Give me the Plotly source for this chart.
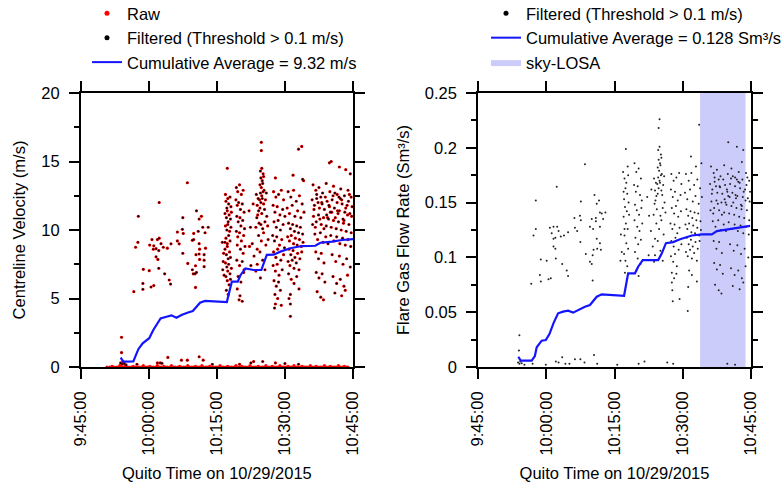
import numpy as np
import pandas as pd
import plotly.graph_objects as go

# ---------------- data (times in minutes after 09:45:00 on 2015-10-29) ----------------
tick_minutes = [0, 15, 30, 45, 60]
tick_labels = ["9:45:00", "10:00:00", "10:15:00", "10:30:00", "10:45:00"]

# Raw velocity samples lying on/near zero (red band along the axis)
raw_zero_min = [5.8, 6.4, 6.9, 7.3, 7.8, 8.2, 8.6, 9.0, 9.4, 9.8,
                10.3, 10.7, 11.2, 11.6, 12.1, 12.5, 12.9, 13.4, 13.8, 14.3,
                14.7, 15.2, 15.6, 16.0, 16.5, 16.9, 17.4, 17.8, 18.3, 18.7,
                19.1, 19.6, 20.0, 20.5, 20.9, 21.4, 21.8, 22.2, 22.7, 23.1,
                23.6, 24.0, 24.5, 24.9, 25.3, 25.8, 26.2, 26.7, 27.1, 27.6,
                28.0, 28.4, 28.9, 29.3, 29.8, 30.2, 30.7, 31.1, 31.5, 32.0,
                32.4, 32.9, 33.3, 33.8, 34.2, 34.6, 35.1, 35.5, 36.0, 36.4,
                36.9, 37.3, 37.7, 38.2, 38.6, 39.1, 39.5, 40.0, 40.4, 40.8,
                41.3, 41.7, 42.2, 42.6, 43.1, 43.5, 43.9, 44.4, 44.8, 45.3,
                45.7, 46.2, 46.6, 47.0, 47.5, 47.9, 48.4, 48.8, 49.3, 49.7,
                50.1, 50.6, 51.0, 51.5, 51.9, 52.4, 52.8, 53.2, 53.7, 54.1,
                54.6, 55.0, 55.5, 55.9, 56.3, 56.8, 57.2, 57.7, 58.1, 58.6,
                58.9]
raw_zero_val = [0.0, 0.0, 0.05, 0.0, 0.0, 0.0, 0.1, 0.0, 0.0, 0.05,
                0.0, 0.0, 0.0, 0.05, 0.0, 0.0, 0.0, 0.0, 0.1, 0.0,
                0.0, 0.05, 0.0, 0.0, 0.0, 0.1, 0.0, 0.0, 0.05, 0.0,
                0.0, 0.0, 0.1, 0.0, 0.0, 0.0, 0.05, 0.0, 0.0, 0.0,
                0.1, 0.0, 0.0, 0.0, 0.05, 0.0, 0.0, 0.1, 0.0, 0.0,
                0.0, 0.05, 0.0, 0.0, 0.0, 0.0, 0.1, 0.0, 0.0, 0.0,
                0.05, 0.0, 0.0, 0.0, 0.1, 0.0, 0.0, 0.05, 0.0, 0.0,
                0.0, 0.1, 0.0, 0.0, 0.0, 0.05, 0.0, 0.0, 0.0, 0.1,
                0.0, 0.0, 0.05, 0.0, 0.0, 0.0, 0.1, 0.0, 0.0, 0.0,
                0.05, 0.0, 0.0, 0.1, 0.0, 0.0, 0.0, 0.05, 0.0, 0.0,
                0.0, 0.1, 0.0, 0.0, 0.05, 0.0, 0.0, 0.0, 0.1, 0.0,
                0.0, 0.05, 0.0, 0.0, 0.0, 0.1, 0.0, 0.0, 0.05, 0.0,
                0.0]

# Filtered centreline velocity (m/s)
vel_filt_min = [
    23.5, 17.3, 12.7, 25.5, 22.5, 26.6, 26.1, 26.9, 28.1, 21.3,
    22.4, 22.6, 24.9, 25.9, 27.4, 15.7, 16.9, 17.3, 12.6, 12.1,
    15.2, 16.1, 16.6, 17.7, 18.2, 19.1, 19.9, 21.3, 21.7, 24.6,
    24.9, 26.1, 27.5, 26.2, 16.0, 17.2, 22.5, 25.4, 26.1, 27.2,
    16.6, 17.0, 26.2, 27.2, 23.6, 25.3, 27.2, 13.8, 15.1, 17.2,
    24.6, 25.5, 25.2, 24.8, 18.5, 19.5, 19.8, 13.7, 16.1, 15.5,
    13.7, 25.3, 11.7, 9.0, 9.0, 31.8,
    8.8, 9.1, 9.3, 9.6, 10.0, 12.4, 16.9, 17.5, 17.9, 19.2,
    22.2, 23.5, 26.1, 27.0, 29.0, 35.0, 37.5, 38.1, 40.1, 42.9,
    45.0, 48.0,
    31.9, 32.0, 32.2, 32.4, 32.6, 32.9, 33.1, 31.8, 32.1, 32.3,
    32.5, 32.7, 33.0, 33.2, 31.9, 32.2, 32.4, 32.8, 33.1, 32.0,
    32.3, 32.6, 32.9, 31.8, 32.1, 32.3, 32.5, 32.8, 33.0, 31.9,
    32.2, 32.4, 32.6, 32.9, 33.2, 32.0, 32.3, 32.7, 33.0, 32.1,
    32.5, 32.3, 31.2, 31.5, 31.4, 31.6, 31.3,
    34.3, 34.6, 35.0, 35.4, 35.8, 34.2, 34.5, 34.8, 35.2, 35.6,
    36.0, 34.4, 34.7, 35.1, 35.3, 35.7, 36.1, 34.3, 34.6, 35.0,
    35.4, 35.9, 34.5, 35.2, 35.8, 36.2, 34.4, 35.0, 35.6, 36.0,
    34.7, 35.3, 35.9, 34.5, 35.1, 35.6, 34.9, 37.1, 37.4, 37.8,
    38.2, 37.5, 38.6, 38.0, 38.9, 37.2,
    39.8, 39.8, 39.6, 39.9, 40.2, 39.7, 40.0, 40.3, 39.5, 39.8,
    40.1, 40.4, 39.6, 39.9, 40.2, 39.4, 39.7, 40.0, 40.3, 38.7,
    38.9, 39.1, 39.2, 38.8, 39.0, 39.3, 38.6, 39.5, 39.9, 40.5,
    40.7, 41.0, 40.6, 41.2, 40.1, 39.7, 40.9, 39.2, 39.8, 40.3,
    40.8, 39.5, 40.1, 38.9, 40.6, 39.6, 41.3,
    42.9, 42.5, 43.0, 43.6, 44.2, 44.7, 42.4, 42.8, 43.3, 43.9,
    44.5, 45.0, 42.6, 43.1, 43.5, 44.0, 44.6, 42.3, 42.7, 43.2,
    43.8, 44.3, 44.9, 42.5, 43.0, 43.4, 44.1, 44.7, 42.4, 42.9,
    43.3, 43.7, 44.4, 42.6, 43.1, 43.6, 44.0, 42.8, 43.4, 42.7,
    42.9, 44.2,
    46.8, 48.0, 48.7, 48.9, 49.1, 45.7, 46.3, 46.9, 47.5, 48.2,
    48.8, 45.5, 46.0, 46.6, 47.2, 47.8, 48.5, 49.2, 45.8, 46.2,
    46.7, 47.1, 47.6, 48.0, 48.4, 48.9, 45.6, 46.0, 46.4, 46.9,
    47.3, 47.7, 48.2, 48.6, 49.0, 45.9, 46.3, 46.8, 47.2, 47.8,
    48.3, 48.7, 45.7, 46.1, 46.6, 47.0, 47.5, 48.1, 45.8, 46.4,
    47.0, 47.6, 48.1, 46.2, 46.2, 46.2, 45.9,
    55.2, 54.8, 57.0, 58.4, 59.4, 51.2, 51.8, 52.5, 53.3, 54.1,
    54.9, 55.7, 56.5, 57.3, 58.1, 58.9, 59.6, 51.0, 51.5, 52.0,
    52.6, 53.1, 53.7, 54.3, 54.8, 55.4, 55.9, 56.5, 57.0, 57.6,
    58.2, 58.7, 59.3, 59.8, 51.3, 51.9, 52.4, 53.0, 53.5, 54.1,
    54.6, 55.2, 55.7, 56.3, 56.8, 57.4, 57.9, 58.5, 59.1, 59.6,
    51.6, 52.2, 52.8, 53.4, 54.0, 54.5, 55.1, 55.8, 56.4, 57.1,
    57.7, 58.3, 58.9, 59.5, 51.8, 52.4, 53.0, 53.6, 55.4, 56.2,
    57.0, 57.8, 58.6, 59.4, 51.9, 52.5, 53.2, 53.8, 55.6, 56.4,
    57.2, 58.0, 58.8, 52.1, 52.9, 53.5, 56.0, 57.5, 58.3,
    51.4, 52.0, 52.7, 53.2, 53.9, 54.4, 55.0, 55.6, 56.1, 56.7,
    57.2, 57.8, 58.4, 59.0, 59.7, 51.7, 52.3, 53.6, 54.2, 55.3,
    56.0, 56.6, 57.5, 58.0, 58.8, 59.2, 51.1, 52.9, 54.7, 56.9,
]
vel_filt_val = [
    13.45, 12.0, 11.0, 11.4, 10.9, 11.0, 10.8, 10.2, 10.2, 9.85,
    10.05, 9.75, 9.75, 9.9, 9.8, 9.3, 9.3, 9.4, 9.1, 8.74,
    8.9, 8.85, 8.64, 9.0, 8.74, 8.67, 8.99, 9.2, 8.99, 9.25,
    9.3, 9.0, 8.67, 8.6, 8.6, 8.5, 8.3, 8.2, 8.25, 8.2,
    8.04, 7.85, 7.85, 7.8, 7.56, 7.39, 7.32, 7.13, 7.03, 7.2,
    7.1, 6.9, 6.8, 6.8, 6.8, 6.35, 6.05, 6.1, 5.94, 5.84,
    5.67, 5.81, 5.5, 2.17, 1.05, 9.1,
    0.3, 0.2, 0.4, 0.25, 0.15, 0.2, 0.3, 0.3, 0.27, 0.7,
    0.5, 0.5, 0.75, 0.5, 0.2, 0.2, 0.3, 0.4, 0.4, 0.3,
    0.25, 0.2,
    12.6, 12.1, 11.6, 12.3, 11.9, 12.4, 11.7, 11.2, 10.9, 11.4,
    10.6, 11.1, 10.8, 11.3, 10.3, 10.0, 10.4, 9.9, 10.2, 9.4,
    9.0, 9.6, 9.2, 8.6, 8.2, 8.8, 7.9, 8.4, 8.0, 7.6,
    7.3, 7.0, 7.5, 6.8, 7.2, 6.6, 6.3, 6.0, 6.4, 5.6,
    5.3, 14.5, 9.1, 8.3, 7.7, 6.7, 7.1,
    13.1, 12.8, 13.3, 12.6, 12.9, 12.2, 11.8, 12.0, 11.5, 11.9,
    11.3, 11.0, 10.6, 10.9, 10.3, 10.7, 10.1, 9.9, 9.5, 9.8,
    9.2, 9.6, 8.9, 8.6, 8.3, 8.8, 7.8, 7.4, 7.7, 7.1,
    6.6, 6.2, 6.9, 5.7, 5.2, 4.8, 4.9, 11.4, 10.2, 9.0,
    8.1, 7.4, 7.0, 11.9, 8.6, 8.8,
    16.4, 15.8, 14.3, 14.5, 14.1, 13.8, 13.6, 13.9, 13.3, 13.1,
    13.4, 12.9, 12.7, 12.5, 12.8, 12.2, 12.0, 12.3, 11.9, 12.6,
    11.8, 12.3, 11.4, 10.9, 11.1, 10.5, 10.2, 11.6, 11.2, 11.5,
    12.2, 11.0, 10.6, 10.3, 10.1, 10.4, 12.7, 9.6, 9.2, 9.8,
    8.9, 8.4, 7.8, 7.5, 7.1, 6.5, 9.3,
    13.8, 12.8, 12.4, 12.6, 12.9, 12.2, 11.8, 11.3, 11.7, 11.1,
    11.5, 11.0, 10.6, 10.2, 10.7, 10.0, 10.4, 9.6, 9.2, 9.5,
    8.9, 9.3, 8.7, 8.4, 8.0, 8.6, 7.8, 8.2, 7.4, 7.0,
    7.5, 6.7, 7.1, 6.3, 5.9, 6.2, 5.6, 5.3, 5.0, 4.3,
    4.6, 4.5,
    14.0, 15.9, 16.1, 13.7, 13.6, 12.8, 12.4, 12.9, 12.1, 12.5,
    11.9, 11.6, 11.2, 11.8, 11.0, 11.4, 10.9, 11.3, 10.5, 10.1,
    10.4, 9.9, 10.3, 9.8, 10.2, 9.7, 9.5, 9.2, 9.6, 9.0,
    9.4, 8.9, 9.3, 8.8, 9.1, 8.6, 8.2, 8.5, 8.0, 8.3,
    7.9, 8.4, 7.7, 7.4, 7.8, 7.2, 7.6, 7.1, 6.8, 6.4,
    6.1, 6.6, 5.7, 5.3, 4.6, 3.7, 5.0,
    15.0, 14.9, 14.6, 14.4, 14.1, 13.3, 12.9, 13.1, 12.7, 13.4,
    12.8, 13.2, 12.6, 13.0, 12.5, 12.9, 12.4, 12.2, 11.8, 12.3,
    11.6, 12.0, 11.5, 12.1, 11.7, 12.2, 11.6, 12.0, 11.4, 11.9,
    11.3, 11.8, 11.2, 11.7, 11.0, 10.6, 11.1, 10.4, 10.9, 10.3,
    10.8, 10.2, 10.7, 10.1, 10.6, 10.0, 10.5, 9.9, 10.4, 9.8,
    9.7, 9.3, 9.8, 9.1, 9.5, 9.0, 9.6, 9.2, 9.5, 9.0,
    9.4, 8.9, 9.3, 8.8, 8.4, 7.9, 8.3, 7.6, 8.2, 7.7,
    8.1, 7.5, 7.9, 7.3, 6.9, 6.5, 6.8, 6.2, 6.6, 6.1,
    6.4, 5.9, 6.7, 5.5, 5.1, 4.9, 5.4, 5.2, 5.6,
    11.5, 12.6, 10.8, 11.9, 12.4, 10.9, 11.3, 12.5, 10.9, 11.2,
    12.3, 10.8, 11.6, 12.1, 11.0, 10.2, 12.0, 10.1, 11.1, 11.3,
    12.7, 11.4, 12.2, 10.7, 11.1, 12.6, 10.4, 12.4, 11.8, 12.4,
]

# Cumulative average velocity (m/s)
cum_v_min = [8.8, 9.4, 11.6, 12.0, 12.7, 13.65, 15.1, 16.0, 16.9, 17.6,
             18.9, 20.0, 21.1, 22.2, 23.5, 24.7, 26.3, 27.4, 32.2, 33.3,
             34.6, 35.2, 36.3, 38.1, 39.8, 40.3, 41.0, 42.5, 44.0, 46.2,
             48.7, 51.7, 52.8, 55.4, 57.6, 60.0]
cum_v_val = [0.68, 0.39, 0.4, 0.75, 1.3, 1.73, 2.1, 2.7, 3.19, 3.55,
             3.67, 3.77, 3.6, 3.8, 3.96, 4.09, 4.69, 4.82, 4.74, 6.23,
             6.23, 6.7, 7.2, 7.08, 7.08, 7.57, 8.18, 8.2, 8.42, 8.67,
             8.83, 8.85, 9.07, 9.15, 9.27, 9.34]

# Filtered flare gas flow rate (Sm3/s)
flow_filt_min = [
    23.5, 17.3, 12.7, 25.6, 22.6, 26.6, 26.1, 26.8, 28.0, 27.2,
    21.2, 22.4, 22.6, 25.0, 25.9, 25.9, 27.5, 15.8, 16.6, 17.4,
    12.7, 12.2, 16.2, 16.6, 17.0, 17.7, 18.2, 18.9, 19.8, 21.3,
    21.8, 24.6, 25.3, 26.8, 16.6, 17.0, 13.8, 15.1, 17.1, 18.5,
    19.5, 19.8, 22.5, 26.1, 26.8, 26.2, 27.0, 25.4, 25.2, 24.6,
    25.0, 23.7, 25.2, 13.6, 16.0, 15.5, 13.8, 11.7, 9.1, 9.0,
    32.2,
    8.8, 9.1, 9.3, 9.6, 10.2, 12.0, 14.9, 17.1, 17.7, 18.5,
    19.2, 20.1, 21.3, 22.5, 23.4, 25.5, 26.2, 30.6, 35.3, 36.6,
    41.6, 42.9, 54.8, 56.5,
    32.5, 31.9, 32.2, 32.6, 33.0, 32.4, 32.8, 32.1, 33.1, 32.3,
    32.7, 32.0, 33.2, 32.5, 32.9, 32.2, 32.6, 33.0, 32.1, 32.4,
    32.8, 32.3, 32.7, 31.4, 31.6, 31.3, 32.0, 32.9,
    34.4, 34.8, 35.3, 35.8, 34.3, 34.7, 35.1, 35.6, 36.0, 34.5,
    34.9, 35.4, 35.9, 34.4, 35.0, 35.5, 36.1, 34.6, 35.2, 35.8,
    34.5, 35.1, 35.7, 34.8, 35.3, 37.2, 37.6, 38.0, 38.4, 37.5,
    38.7, 38.1, 38.9,
    39.9, 39.7, 39.6, 39.9, 40.2, 39.7, 40.0, 40.3, 39.5, 39.8,
    40.1, 40.4, 39.6, 39.9, 40.2, 39.4, 39.7, 40.0, 40.3, 38.7,
    38.9, 39.1, 39.2, 38.8, 39.0, 39.3, 38.6, 39.5, 40.5, 40.7,
    41.0, 40.6, 41.2, 40.1, 40.9, 39.2, 39.8, 40.3, 40.8, 39.5,
    40.1, 38.9, 40.6,
    42.5, 43.0, 43.6, 44.2, 44.7, 42.4, 42.8, 43.3, 43.9, 44.5,
    42.6, 43.1, 43.5, 44.0, 44.6, 42.3, 42.7, 43.2, 43.8, 44.3,
    42.5, 43.0, 43.4, 44.1, 44.7, 42.4, 42.9, 43.3, 43.7, 42.6,
    43.1, 43.6, 42.6, 42.7, 42.8, 44.3,
    48.6, 47.9, 46.8, 45.7, 46.3, 46.9, 47.5, 48.2, 48.8, 45.5,
    46.0, 46.6, 47.2, 47.8, 48.5, 49.2, 45.8, 46.2, 46.7, 47.1,
    47.6, 48.0, 48.4, 48.9, 45.6, 46.0, 46.4, 46.9, 47.3, 47.7,
    48.2, 48.6, 49.0, 45.9, 46.3, 46.8, 47.2, 47.8, 48.3, 48.7,
    45.7, 46.1, 46.6, 47.0, 47.5, 48.1, 46.4, 47.0, 48.1, 46.2,
    46.1, 49.1,
    55.0, 56.9, 58.3, 58.0, 51.2, 51.8, 52.5, 53.3, 54.1, 54.9,
    55.7, 56.5, 57.3, 58.1, 58.9, 59.6, 51.0, 51.5, 52.0, 52.6,
    53.1, 53.7, 54.3, 54.8, 55.4, 55.9, 56.5, 57.0, 57.6, 58.2,
    58.7, 59.3, 59.8, 51.3, 51.9, 52.4, 53.0, 53.5, 54.1, 54.6,
    55.2, 55.7, 56.3, 56.8, 57.4, 57.9, 58.5, 59.1, 59.6, 51.6,
    52.2, 52.8, 53.4, 54.0, 54.5, 55.1, 55.8, 56.4, 57.1, 57.7,
    58.3, 58.9, 59.5, 51.8, 52.4, 53.0, 53.6, 55.4, 56.2, 57.0,
    57.8, 58.6, 59.4, 51.9, 52.5, 53.2, 53.8, 55.6, 56.4, 57.2,
    58.0, 58.8, 52.1, 52.9, 53.5, 56.0, 57.5, 58.3,
    51.4, 52.0, 52.7, 53.2, 53.9, 54.4, 55.0, 55.6, 56.1, 56.7,
    57.2, 57.8, 58.4, 59.0, 59.7, 51.7, 52.3, 53.6, 54.2, 55.3,
    56.0, 56.6, 57.5, 58.0, 58.8, 59.2, 51.1, 52.9, 54.7, 56.9,
]
flow_filt_val = [
    0.185, 0.1645, 0.152, 0.157, 0.151, 0.152, 0.149, 0.141, 0.141, 0.140,
    0.136, 0.138, 0.134, 0.135, 0.136, 0.133, 0.135, 0.127, 0.128, 0.128,
    0.126, 0.120, 0.122, 0.117, 0.118, 0.124, 0.119, 0.120, 0.123, 0.127,
    0.124, 0.128, 0.126, 0.128, 0.110, 0.108, 0.098, 0.097, 0.099, 0.094,
    0.088, 0.083, 0.114, 0.117, 0.113, 0.108, 0.107, 0.107, 0.102, 0.096,
    0.094, 0.103, 0.079, 0.084, 0.081, 0.080, 0.078, 0.076, 0.029, 0.015,
    0.126,
    0.004, 0.003, 0.005, 0.0035, 0.002, 0.003, 0.002, 0.005, 0.004, 0.009,
    0.003, 0.003, 0.007, 0.007, 0.004, 0.011, 0.003, 0.002, 0.003, 0.005,
    0.004, 0.003, 0.003, 0.002,
    0.199, 0.178, 0.172, 0.168, 0.175, 0.163, 0.158, 0.153, 0.150, 0.146,
    0.142, 0.137, 0.139, 0.131, 0.126, 0.120, 0.113, 0.108, 0.103, 0.097,
    0.092, 0.086, 0.080, 0.121, 0.105, 0.097, 0.160, 0.183,
    0.186, 0.178, 0.181, 0.172, 0.166, 0.160, 0.165, 0.157, 0.152, 0.148,
    0.143, 0.139, 0.145, 0.134, 0.128, 0.124, 0.131, 0.118, 0.112, 0.116,
    0.105, 0.099, 0.094, 0.088, 0.083, 0.155, 0.138, 0.124, 0.110, 0.102,
    0.096, 0.162, 0.117,
    0.226, 0.218, 0.198, 0.201, 0.194, 0.189, 0.186, 0.191, 0.182, 0.179,
    0.184, 0.176, 0.173, 0.170, 0.175, 0.167, 0.163, 0.168, 0.161, 0.172,
    0.161, 0.168, 0.156, 0.149, 0.152, 0.144, 0.139, 0.158, 0.157, 0.166,
    0.150, 0.145, 0.141, 0.138, 0.174, 0.131, 0.126, 0.134, 0.121, 0.115,
    0.106, 0.102, 0.097,
    0.176, 0.170, 0.173, 0.177, 0.167, 0.162, 0.155, 0.160, 0.152, 0.157,
    0.145, 0.140, 0.147, 0.137, 0.142, 0.131, 0.126, 0.130, 0.122, 0.127,
    0.115, 0.110, 0.118, 0.107, 0.112, 0.101, 0.096, 0.103, 0.092, 0.086,
    0.081, 0.085, 0.077, 0.070, 0.060, 0.062,
    0.221, 0.183, 0.192, 0.176, 0.170, 0.177, 0.166, 0.171, 0.163, 0.159,
    0.153, 0.162, 0.151, 0.156, 0.149, 0.155, 0.144, 0.138, 0.142, 0.136,
    0.141, 0.134, 0.140, 0.133, 0.130, 0.126, 0.131, 0.123, 0.129, 0.122,
    0.127, 0.120, 0.125, 0.118, 0.112, 0.116, 0.110, 0.114, 0.108, 0.115,
    0.105, 0.101, 0.107, 0.099, 0.104, 0.097, 0.088, 0.084, 0.078, 0.073,
    0.051, 0.186,
    0.205, 0.201, 0.198, 0.187, 0.183, 0.177, 0.180, 0.174, 0.184, 0.176,
    0.181, 0.173, 0.178, 0.171, 0.177, 0.170, 0.167, 0.162, 0.169, 0.159,
    0.165, 0.158, 0.166, 0.160, 0.167, 0.159, 0.165, 0.156, 0.163, 0.155,
    0.162, 0.154, 0.160, 0.151, 0.145, 0.152, 0.143, 0.150, 0.141, 0.148,
    0.140, 0.147, 0.139, 0.145, 0.137, 0.144, 0.136, 0.143, 0.134, 0.133,
    0.128, 0.134, 0.125, 0.130, 0.124, 0.132, 0.126, 0.130, 0.124, 0.129,
    0.122, 0.128, 0.121, 0.115, 0.108, 0.114, 0.104, 0.112, 0.106, 0.111,
    0.103, 0.108, 0.100, 0.095, 0.089, 0.093, 0.085, 0.090, 0.084, 0.088,
    0.081, 0.092, 0.075, 0.070, 0.067, 0.074, 0.071, 0.077,
    0.158, 0.173, 0.149, 0.164, 0.171, 0.150, 0.156, 0.172, 0.150, 0.154,
    0.169, 0.148, 0.160, 0.166, 0.151, 0.140, 0.165, 0.139, 0.153, 0.155,
    0.174, 0.157, 0.168, 0.147, 0.152, 0.173, 0.143, 0.171, 0.162, 0.171,
]

# Cumulative average flow rate (Sm3/s)
cum_f_min = [8.86, 9.38, 11.8, 12.5, 12.9, 14.0, 14.9, 15.7, 16.6, 17.6,
             18.7, 19.8, 20.9, 22.0, 23.5, 24.6, 26.1, 27.2, 32.1, 33.0,
             34.5, 35.2, 36.2, 39.6, 40.4, 41.3, 42.9, 44.4, 47.0, 49.2,
             51.4, 52.5, 55.4, 57.6, 59.8]
cum_f_val = [0.0094, 0.0058, 0.0058, 0.010, 0.018, 0.024, 0.0246, 0.030, 0.040, 0.049,
             0.0505, 0.0514, 0.0496, 0.052, 0.055, 0.0566, 0.0641, 0.0663, 0.065, 0.0855,
             0.0855, 0.0915, 0.0976, 0.0976, 0.1037, 0.113, 0.114, 0.1165, 0.120, 0.121,
             0.121, 0.124, 0.1256, 0.127, 0.1287]

# sky-LOSA measurement window
losa_start_min = 48.8
losa_end_min = 58.8
flow_axis_max = 0.25

assert len(raw_zero_min) == len(raw_zero_val)
assert len(vel_filt_min) == len(vel_filt_val)
assert len(flow_filt_min) == len(flow_filt_val)
assert len(cum_v_min) == len(cum_v_val)
assert len(cum_f_min) == len(cum_f_val)

BASE = pd.Timestamp("2015-10-29 09:45:00")


def to_time(mins):
    return BASE + pd.to_timedelta(np.asarray(mins, dtype=float), unit="min")


FONT = "Liberation Sans, Arial, sans-serif"
FS = 16.5
W, H = 784, 488
BLUE = "#1414ff"
LOSA = "#ccccfa"


def px_x(px):  # pixel -> paper fraction (x)
    return px / W


def px_y(py):  # pixel -> paper fraction (y)
    return (H - py) / H


fig = go.Figure()

# ---------------- left panel ----------------
fig.add_trace(go.Scatter(
    x=to_time(raw_zero_min + vel_filt_min), y=raw_zero_val + vel_filt_val,
    mode="markers", marker=dict(color="#ff0000", size=3.2, line=dict(width=0)),
    showlegend=False, xaxis="x", yaxis="y", hoverinfo="skip"))
fig.add_trace(go.Scatter(
    x=to_time(vel_filt_min), y=vel_filt_val, mode="markers",
    marker=dict(color="#000000", size=2.0, line=dict(width=0)),
    showlegend=False, xaxis="x", yaxis="y", hoverinfo="skip"))
fig.add_trace(go.Scatter(
    x=to_time(cum_v_min), y=cum_v_val, mode="lines",
    line=dict(color=BLUE, width=2.2), showlegend=False,
    xaxis="x", yaxis="y", hoverinfo="skip"))
# legend entries (left)
fig.add_trace(go.Scatter(x=[None], y=[None], mode="markers", name="Raw",
                         marker=dict(color="#ff0000", size=5), legend="legend",
                         xaxis="x", yaxis="y"))
fig.add_trace(go.Scatter(x=[None], y=[None], mode="markers",
                         name="Filtered (Threshold > 0.1 m/s)",
                         marker=dict(color="#000000", size=5), legend="legend",
                         xaxis="x", yaxis="y"))
fig.add_trace(go.Scatter(x=[None], y=[None], mode="lines",
                         name="Cumulative Average = 9.32 m/s",
                         line=dict(color=BLUE, width=2), legend="legend",
                         xaxis="x", yaxis="y"))

# ---------------- right panel ----------------
ls, le = to_time([losa_start_min, losa_end_min])
fig.add_trace(go.Scatter(
    x=[ls, le, le, ls, ls], y=[0, 0, flow_axis_max, flow_axis_max, 0],
    mode="lines", fill="toself", fillcolor=LOSA, line=dict(width=0),
    name="sky-LOSA", showlegend=False, xaxis="x2", yaxis="y2", hoverinfo="skip"))
fig.add_trace(go.Scatter(
    x=to_time(flow_filt_min), y=flow_filt_val, mode="markers",
    marker=dict(color="#222222", size=2, line=dict(width=0)),
    showlegend=False, xaxis="x2", yaxis="y2", hoverinfo="skip"))
fig.add_trace(go.Scatter(
    x=to_time(cum_f_min), y=cum_f_val, mode="lines",
    line=dict(color=BLUE, width=2.2), showlegend=False,
    xaxis="x2", yaxis="y2", hoverinfo="skip"))
fig.add_trace(go.Scatter(x=[None], y=[None], mode="markers",
                         name="Filtered (Threshold > 0.1 m/s)",
                         marker=dict(color="#000000", size=5), legend="legend2",
                         xaxis="x2", yaxis="y2"))
fig.add_trace(go.Scatter(x=[None], y=[None], mode="lines",
                         name="Cumulative Average = 0.128 Sm³/s",
                         line=dict(color=BLUE, width=2), legend="legend2",
                         xaxis="x2", yaxis="y2"))
fig.add_trace(go.Scatter(x=[None], y=[None], mode="lines", fill="toself",
                         fillcolor=LOSA, line=dict(width=0),
                         name="sky-LOSA", legend="legend2",
                         xaxis="x2", yaxis="y2"))

x_ticks = list(to_time(tick_minutes))
x_range = [to_time([0])[0], to_time([60])[0]]

tfont = dict(size=FS, color="black", family=FONT)
common = dict(showline=True, linecolor="black", linewidth=1.5, mirror="ticks",
              ticks="outside", ticklen=10, tickwidth=1.5, tickcolor="black",
              showgrid=False, zeroline=False, automargin=False,
              ticklabelstandoff=6, tickfont=tfont)

xcommon = dict(common, type="date", range=x_range, tickmode="array",
               tickvals=x_ticks, ticktext=tick_labels, tickangle=-90,
               title=dict(text="Quito Time on 10/29/2015", font=tfont,
                          standoff=13))

ydom = [px_y(367), px_y(93)]
legend_common = dict(y=1.0 + 4 / H, xanchor="left", yanchor="top",
                     bgcolor="rgba(0,0,0,0)", font=tfont,
                     itemwidth=30, tracegroupgap=0)

fig.update_layout(
    width=W, height=H,
    margin=dict(l=0, r=0, t=0, b=0, pad=0, autoexpand=False),
    paper_bgcolor="white", plot_bgcolor="white",
    font=dict(family=FONT, size=FS, color="black"),
    xaxis=dict(xcommon, domain=[px_x(80.7), px_x(353)], anchor="y"),
    yaxis=dict(common, domain=ydom, anchor="x",
               range=[0, 20], dtick=5, tick0=0,
               minor=dict(dtick=2.5, ticklen=5, tickwidth=1.5,
                          tickcolor="black", ticks="outside", showgrid=False),
               title=dict(text="Centreline Velocity (m/s)", font=tfont,
                          standoff=12)),
    xaxis2=dict(xcommon, domain=[px_x(478), px_x(751)], anchor="y2"),
    yaxis2=dict(common, domain=ydom, anchor="x2",
                range=[0, flow_axis_max], dtick=0.05, tick0=0,
                minor=dict(dtick=0.025, ticklen=5, tickwidth=1.5,
                           tickcolor="black", ticks="outside", showgrid=False),
                title=dict(text="Flare Gas Flow Rate (Sm³/s)", font=tfont,
                           standoff=11)),
    legend=dict(legend_common, x=px_x(87)),
    legend2=dict(legend_common, x=px_x(486)),
)

# remove the browser's default 8px page margin so the figure fills the window
fig.write_html("out.html",
               config={"displayModeBar": False},
               post_script="document.body.style.margin='0px';")
